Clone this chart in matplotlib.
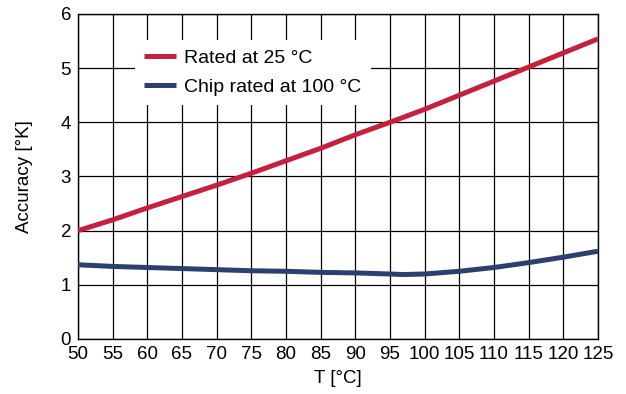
import matplotlib
matplotlib.use("Agg")
import matplotlib.pyplot as plt

plt.rcParams['font.family'] = ['Liberation Sans', 'DejaVu Sans']

# temperatures [°C]
temps = [50, 55, 60, 65, 70, 75, 80, 85, 90, 95, 100, 105, 110, 115, 120, 125]
# Rated at 25 °C
rated_25 = [2.0, 2.2, 2.42, 2.63, 2.84, 3.06, 3.29, 3.52, 3.77, 4.0, 4.24,
            4.5, 4.76, 5.02, 5.28, 5.54]

# Chip rated at 100 °C
chip_temps = [50, 55, 60, 65, 70, 75, 80, 85, 90, 95, 97, 100, 105, 110, 115, 120, 125]
chip_100 = [1.37, 1.34, 1.32, 1.30, 1.28, 1.26, 1.25, 1.23, 1.22, 1.20, 1.19,
            1.20, 1.25, 1.32, 1.41, 1.51, 1.62]

x_ticks = list(range(50, 126, 5))
y_ticks = [0, 1, 2, 3, 4, 5, 6]

fig = plt.figure(figsize=(6.26, 3.94), dpi=100)
ax = fig.add_axes([0.1246, 0.1396, 0.8304, 0.8249])

ax.plot(temps, rated_25, color='#c5213f', lw=3.6, label='Rated at 25 °C',
        solid_capstyle='butt', zorder=3)
ax.plot(chip_temps, chip_100, color='#2c3f6e', lw=3.6, label='Chip rated at 100 °C',
        solid_capstyle='butt', zorder=3)

ax.set_xlim(50, 125)
ax.set_ylim(0, 6)
ax.set_xticks(x_ticks)
ax.set_yticks(y_ticks)
ax.tick_params(length=0, labelsize=13.5, pad=5)
ax.grid(True, color='black', lw=0.9)
for s in ax.spines.values():
    s.set_color('black')
    s.set_linewidth(1.0)

ax.set_xlabel('T [°C]', fontsize=13.5, labelpad=5)
ax.set_ylabel('Accuracy [°K]', fontsize=13.5, labelpad=20)

leg = ax.legend(loc='upper left', bbox_to_anchor=(0.09, 0.95), fontsize=14,
                frameon=True, fancybox=False, handlelength=1.65, handletextpad=0.4,
                borderpad=0.5, labelspacing=0.55, framealpha=1)
leg.get_frame().set_edgecolor('none')
leg.get_frame().set_facecolor('white')
leg.set_zorder(5)

fig.savefig('out.png', dpi=100)
